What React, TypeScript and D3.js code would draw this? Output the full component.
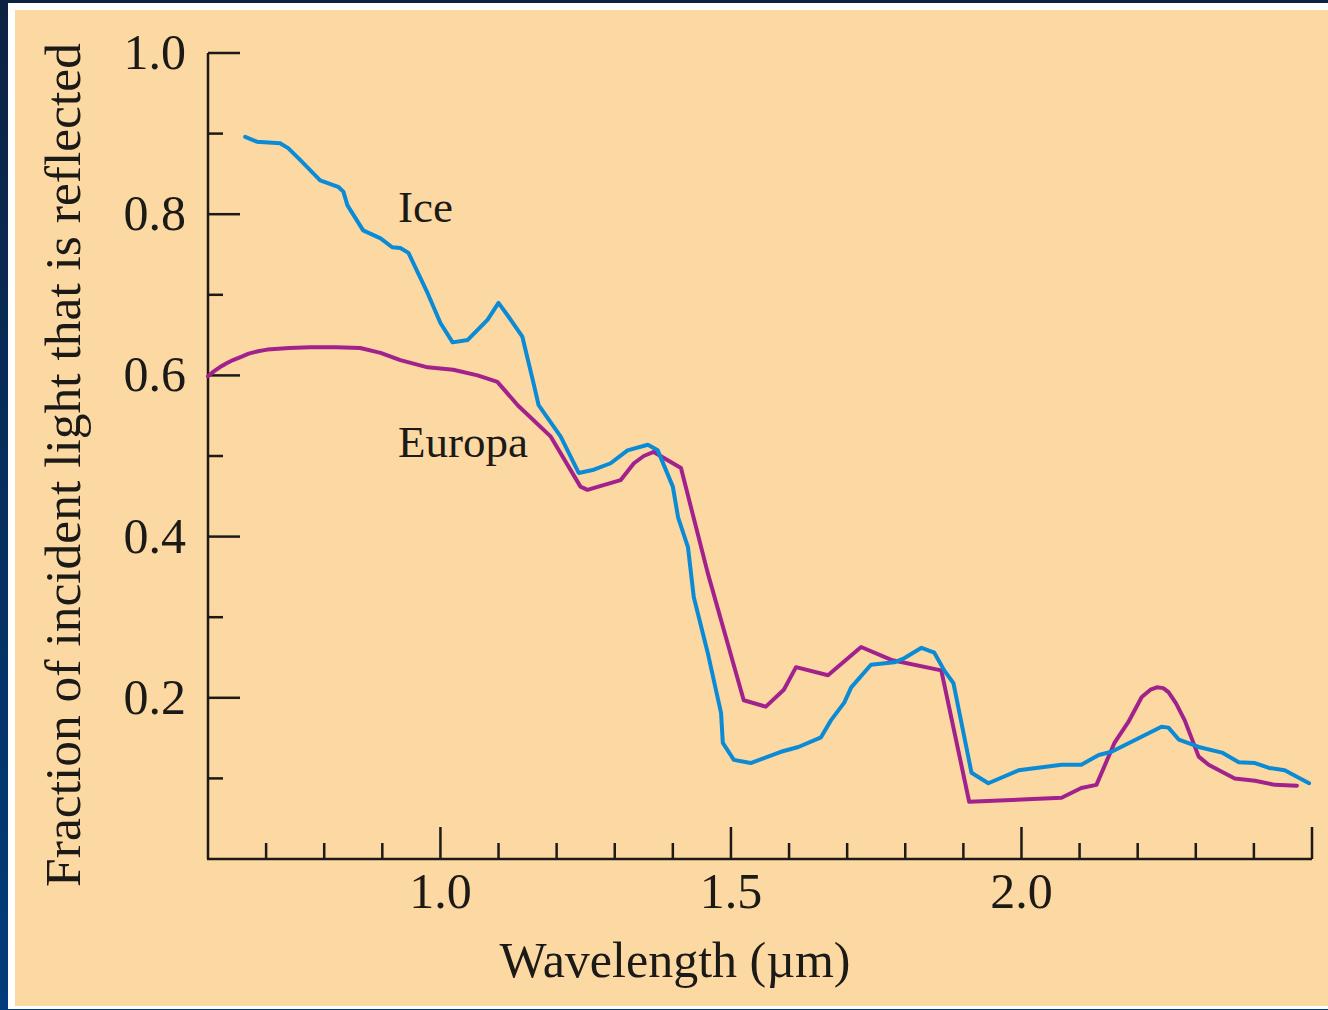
import React from "react";
import * as d3 from "d3";

// spectrum of water ice vs. Europa
const iceWavelength = [
  0.664, 0.684, 0.724, 0.738, 0.759, 0.793, 0.824, 0.833, 0.84, 0.867, 0.897,
  0.917, 0.931, 0.945, 0.978, 1.0, 1.021, 1.047, 1.081, 1.1, 1.121, 1.141,
  1.16, 1.169, 1.207, 1.238, 1.264, 1.293, 1.322, 1.357, 1.374, 1.4, 1.409,
  1.426, 1.436, 1.46, 1.483, 1.486, 1.505, 1.534, 1.586, 1.616, 1.655, 1.672,
  1.695, 1.707, 1.741, 1.781, 1.798, 1.828, 1.85, 1.867, 1.883, 1.914, 1.943,
  1.995, 2.069, 2.103, 2.133, 2.155, 2.241, 2.253, 2.271, 2.305, 2.345, 2.374,
  2.402, 2.426, 2.453, 2.495,
];
const iceReflectance = [
  0.896, 0.89, 0.888, 0.882, 0.867, 0.842, 0.834, 0.828, 0.811, 0.78, 0.77,
  0.759, 0.758, 0.752, 0.702, 0.665, 0.641, 0.644, 0.669, 0.69, 0.669, 0.648,
  0.591, 0.563, 0.524, 0.479, 0.483, 0.491, 0.507, 0.514, 0.507, 0.462, 0.424,
  0.387, 0.325, 0.256, 0.181, 0.144, 0.123, 0.119, 0.133, 0.139, 0.151, 0.172,
  0.194, 0.213, 0.241, 0.244, 0.249, 0.262, 0.256, 0.234, 0.218, 0.107, 0.094,
  0.11, 0.117, 0.117, 0.129, 0.133, 0.164, 0.163, 0.148, 0.139, 0.132, 0.12,
  0.119, 0.113, 0.11, 0.094,
];

const europaWavelength = [
  0.6, 0.61, 0.62, 0.632, 0.643, 0.657, 0.67, 0.686, 0.702, 0.74, 0.776, 0.82,
  0.862, 0.897, 0.931, 0.978, 1.022, 1.064, 1.098, 1.133, 1.19, 1.241, 1.253,
  1.31, 1.333, 1.35, 1.367, 1.414, 1.46, 1.522, 1.56, 1.591, 1.612, 1.667,
  1.724, 1.776, 1.862, 1.91, 2.069, 2.103, 2.129, 2.16, 2.184, 2.207, 2.222,
  2.233, 2.244, 2.253, 2.266, 2.281, 2.305, 2.322, 2.367, 2.402, 2.436, 2.474,
];
const europaReflectance = [
  0.599, 0.605, 0.61, 0.615, 0.619, 0.623, 0.627, 0.63, 0.632, 0.634, 0.635,
  0.635, 0.634, 0.628, 0.619, 0.61, 0.607, 0.6, 0.592, 0.563, 0.524, 0.462,
  0.458, 0.47, 0.491, 0.5, 0.505, 0.485, 0.355, 0.197, 0.189, 0.21, 0.238,
  0.228, 0.263, 0.247, 0.234, 0.071, 0.076, 0.088, 0.092, 0.144, 0.17, 0.201,
  0.21, 0.213, 0.212, 0.207, 0.193, 0.172, 0.127, 0.117, 0.1, 0.097, 0.092,
  0.091,
];

const xMajor = [1.0, 1.5, 2.0, 2.5];
const xLabels = ["1.0", "1.5", "2.0"];
const yLabels = ["0.2", "0.4", "0.6", "0.8", "1.0"];

const W = 1328;
const H = 1010;
const FONT = "'Liberation Serif', 'DejaVu Serif', serif";
const INK = "#1c1a17";

export default function App() {
  const x = d3.scaleLinear().domain([0.6, 2.5]).range([208, 1312]);
  const y = d3.scaleLinear().domain([0, 1]).range([859, 53]);

  const line = d3
    .line<[number, number]>()
    .x((d) => x(d[0]))
    .y((d) => y(d[1]))
    .curve(d3.curveLinear);

  const ice = iceWavelength.map((w, i) => [w, iceReflectance[i]] as [number, number]);
  const europa = europaWavelength.map((w, i) => [w, europaReflectance[i]] as [number, number]);

  // minor ticks every 0.1
  const xTicks = d3.range(7, 26).map((v) => v / 10);
  const yTicks = d3.range(1, 11).map((v) => v / 10);
  const isMajorX = (v: number) => xMajor.some((m) => Math.abs(m - v) < 1e-6);
  const isMajorY = (v: number) => Math.round(v * 10) % 2 === 0;

  return (
    <svg
      width={W}
      height={H}
      style={{ position: "absolute", left: 0, top: 0 }}
      fontFamily={FONT}
    >
      <defs>
        <linearGradient id="frame" x1="0" y1="0" x2="0" y2="1">
          <stop offset="0" stopColor="#0c2243" />
          <stop offset="1" stopColor="#023c7c" />
        </linearGradient>
      </defs>
      <rect x={0} y={0} width={W} height={H} fill="url(#frame)" />
      <rect x={8} y={3} width={W - 8} height={1006} fill="#ffffff" />
      <rect x={15} y={10} width={W - 15} height={996} fill="#fcd9a3" />

      {/* y axis */}
      <g stroke={INK} strokeWidth={2.5}>
        <line x1={x(0.6)} x2={x(0.6)} y1={y(1)} y2={y(0)} />
        {yTicks.map((v) => (
          <line
            key={v}
            x1={x(0.6)}
            x2={x(0.6) + (isMajorY(v) ? 32 : 15)}
            y1={y(v)}
            y2={y(v)}
          />
        ))}
      </g>
      {/* x axis */}
      <g stroke={INK} strokeWidth={2.5}>
        <line x1={x(0.6) - 1} x2={x(2.5)} y1={y(0)} y2={y(0)} />
        {xTicks.map((v) => (
          <line
            key={v}
            x1={x(v)}
            x2={x(v)}
            y1={y(0)}
            y2={y(0) - (isMajorX(v) ? 32 : 16)}
          />
        ))}
      </g>

      <g fill={INK} fontSize={50}>
        {yLabels.map((t) => (
          <text key={t} x={186} y={y(+t) + 16} textAnchor="end">
            {t}
          </text>
        ))}
        {xLabels.map((t) => (
          <text key={t} x={x(+t)} y={908} textAnchor="middle">
            {t}
          </text>
        ))}
        <text x={675} y={977} textAnchor="middle">
          Wavelength (µm)
        </text>
        <text
          transform="translate(80,465) rotate(-90)"
          textAnchor="middle"
          fontSize={51.5}
        >
          Fraction of incident light that is reflected
        </text>
      </g>

      <path
        d={line(europa) ?? ""}
        fill="none"
        stroke="#a2228d"
        strokeWidth={4}
        strokeLinejoin="round"
        strokeLinecap="round"
      />
      <path
        d={line(ice) ?? ""}
        fill="none"
        stroke="#0b8ad6"
        strokeWidth={4}
        strokeLinejoin="round"
        strokeLinecap="round"
      />

      <g fill={INK} fontSize={45}>
        <text x={398} y={222}>Ice</text>
        <text x={398} y={457}>Europa</text>
      </g>
    </svg>
  );
}
